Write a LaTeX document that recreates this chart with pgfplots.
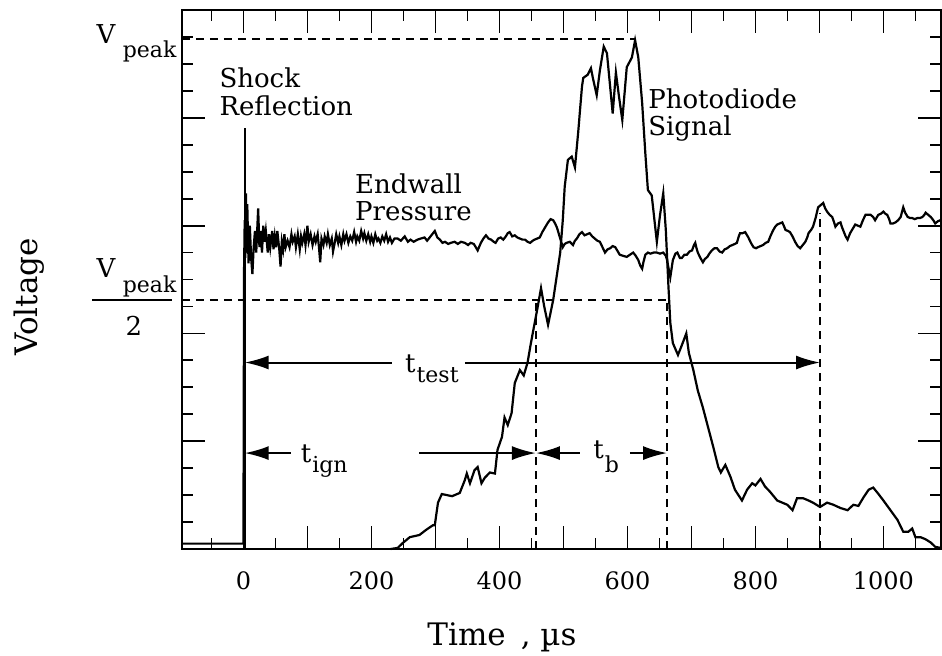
\documentclass[border=0pt]{standalone}
\usepackage{fontspec}
\setmainfont{DejaVu Serif}
\usepackage{pgfplots}
\pgfplotsset{compat=1.18}
\usetikzlibrary{arrows.meta}
\newcommand\fa{\fontsize{13}{13}\selectfont}
\newcommand\fs{\fontsize{11}{11}\selectfont}
\newcommand\fb{\fontsize{15.5}{15.5}\selectfont}
\newcommand\ft{\fontsize{12}{12}\selectfont}
\begin{document}
\begin{tikzpicture}
\useasboundingbox (-91pt,-53pt) rectangle (380pt,274.5pt);
\begin{axis}[
  width=379.5pt, height=269.5pt, scale only axis,
  xmin=-96, xmax=1090, ymin=0, ymax=5,
  clip=false,
  axis line style={line width=1pt},
  xtick={0,100,...,1000},
  xticklabels={0,,200,,400,,600,,800,,1000},
  minor xtick={-50,50,150,250,350,450,550,650,750,850,950,1050},
  ytick={0,1,2,3,4,5},
  yticklabels={},
  minor ytick={0.25,0.5,0.75,1.25,1.5,1.75,2.25,2.5,2.75,3.25,3.5,3.75,4.25,4.5,4.75},
  major tick length=11.5pt, minor tick length=5.5pt,
  tick style={line width=0.9pt, black},
  /pgf/number format/assume math mode=true,
  xticklabel style={font=\ft, yshift=-8pt},
]
% Endwall pressure
\addplot[black, line width=1.1pt] table {
x y
-96 0.05
0 0.05
1 2.60
2 3.05
3 2.70
4 3.30
5 2.75
6 3.20
8 2.65
10 3.00
12 2.70
14 2.55
16 2.80
18 2.95
20 2.75
23 3.16
25 2.80
27 2.95
29 2.75
31 3.00
33 2.85
35 2.95
38 2.75
40 2.92
42 2.80
45 2.95
47 2.78
49 2.90
51 2.80
53 2.95
56 2.78
58 2.62
60 2.85
62 2.78
64 2.92
66 2.80
69 2.86
72 2.80
75 2.92
77 2.85
80 2.90
82 2.80
85 2.92
88 2.78
90 2.90
92 2.84
95 2.92
97 2.82
100 3.00
102 2.85
105 2.92
108 2.82
111 2.90
113 2.85
116 2.92
118 2.80
120 2.66
122 2.88
125 2.82
127 2.90
130 2.84
132 2.92
135 2.82
138 2.88
140 2.76
142 2.82
145 2.92
148 2.84
150 2.90
153 2.82
156 2.92
158 2.86
161 2.92
164 2.84
167 2.90
170 2.86
173 2.94
176 2.85
178 2.90
181 2.86
184 2.95
187 2.88
189 2.93
192 2.86
195 2.92
198 2.85
200 2.90
203 2.84
206 2.92
209 2.86
211 2.88
214 2.84
217 2.90
220 2.86
223 2.92
226 2.85
229 2.89
232 2.84
236 2.88
241 2.88
246 2.86
252 2.90
257 2.85
261 2.87
266 2.85
272 2.87
277 2.88
283 2.89
287 2.86
291 2.89
295 2.92
299 2.95
303 2.89
307 2.87
311 2.84
315 2.85
320 2.83
324 2.84
330 2.85
335 2.83
340 2.85
346 2.84
351 2.82
355 2.84
360 2.83
366 2.77
371 2.84
375 2.88
379 2.91
383 2.88
387 2.87
391 2.85
394 2.84
398 2.88
402 2.89
406 2.87
410 2.90
413 2.93
416 2.94
420 2.90
424 2.91
428 2.89
432 2.88
436 2.87
440 2.87
444 2.85
448 2.84
452 2.86
455 2.87
459 2.88
463 2.89
467 2.94
471 2.98
476 3.03
480 3.06
484 3.05
487 3.02
490 2.98
493 2.92
495 2.88
499 2.80
502 2.83
505 2.84
510 2.85
515 2.82
518 2.86
521 2.88
525 2.92
529 2.94
533 2.91
537 2.92
541 2.93
545 2.90
549 2.88
553 2.86
557 2.85
561 2.80
565 2.75
569 2.78
573 2.79
577 2.81
581 2.80
585 2.76
588 2.73
593 2.72
599 2.71
604 2.73
609 2.75
613 2.72
617 2.68
620 2.63
623 2.60
625 2.66
628 2.73
632 2.75
636 2.74
641 2.75
646 2.75
651 2.74
656 2.75
660 2.72
662 2.68
665 2.58
667 2.52
669 2.60
671 2.68
675 2.74
678 2.75
682 2.70
685 2.70
689 2.73
693 2.73
697 2.76
701 2.77
704 2.82
706 2.84
708 2.79
710 2.75
714 2.70
718 2.66
721 2.69
725 2.71
728 2.74
732 2.77
736 2.79
740 2.79
744 2.76
748 2.75
752 2.78
756 2.79
760 2.81
764 2.82
768 2.83
771 2.84
774 2.90
776 2.93
780 2.93
784 2.94
787 2.91
789 2.89
793 2.84
797 2.80
801 2.79
804 2.80
808 2.81
812 2.82
816 2.84
820 2.85
824 2.91
828 2.96
831 2.99
834 3.01
838 3.02
842 3.03
845 2.99
847 2.96
851 2.95
854 2.94
858 2.90
862 2.85
866 2.81
870 2.79
874 2.82
878 2.85
881 2.89
883 2.93
887 2.96
890 2.99
894 3.07
898 3.17
902 3.19
906 3.21
909 3.16
912 3.13
916 3.10
920 3.08
923 3.03
925 2.99
929 3.02
933 3.03
935 2.99
937 2.96
941 2.90
944 2.87
946 2.90
948 2.93
952 2.97
956 3.01
960 3.00
964 2.99
968 3.05
972 3.10
976 3.10
980 3.10
984 3.08
987 3.05
990 3.08
992 3.10
996 3.11
1000 3.13
1003 3.11
1006 3.10
1009 3.06
1011 3.02
1015 3.02
1019 3.03
1023 3.05
1027 3.08
1031 3.17
1034 3.12
1038 3.08
1042 3.07
1045 3.07
1049 3.06
1053 3.07
1057 3.07
1061 3.08
1064 3.10
1066 3.12
1070 3.10
1074 3.08
1078 3.05
1081 3.02
1085 3.04
1089 3.05
};
% Photodiode signal
\addplot[black, line width=1.1pt] table {
x y
230 0.00
241 0.01
249 0.056
260 0.11
275 0.13
286 0.18
296 0.22
299 0.22
304 0.43
310 0.51
318 0.50
326 0.49
338 0.52
346 0.64
349 0.70
354 0.61
361 0.73
366 0.76
372 0.61
377 0.66
385 0.71
393 0.70
397 0.92
404 1.04
408 1.22
413 1.15
419 1.26
424 1.54
432 1.66
438 1.61
444 1.73
448 1.87
452 2.00
459 2.22
465 2.42
470 2.25
476 2.08
484 2.31
495 2.75
499 3.05
502 3.36
507 3.61
513 3.64
518 3.54
523 3.86
529 4.29
531 4.37
538 4.40
543 4.46
546 4.37
552 4.21
557 4.44
563 4.66
568 4.60
573 4.29
577 4.04
582 4.42
587 4.19
592 3.98
596 4.26
599 4.47
607 4.56
612 4.72
617 4.56
623 4.14
628 3.67
632 3.33
638 3.28
643 3.01
646 2.85
651 3.10
656 3.30
660 2.96
664 2.45
667 2.10
671 1.91
679 1.80
685 1.89
692 2.00
696 1.82
703 1.66
710 1.47
718 1.31
726 1.13
734 0.95
742 0.76
746 0.71
753 0.78
761 0.67
768 0.55
779 0.45
787 0.55
795 0.61
800 0.59
808 0.65
815 0.58
823 0.53
834 0.45
842 0.43
850 0.41
858 0.36
865 0.47
875 0.47
883 0.45
890 0.43
901 0.39
912 0.43
922 0.41
933 0.38
944 0.36
953 0.41
961 0.40
969 0.48
977 0.55
984 0.57
991 0.52
1000 0.45
1011 0.36
1022 0.27
1031 0.16
1039 0.16
1045 0.19
1050 0.11
1058 0.11
1066 0.09
1074 0.06
1081 0.02
1090 0.01
};
% shock reflection marker
\draw[line width=1pt] (axis cs:2,0) -- (axis cs:2,3.91);
% dashed reference lines
\draw[dash pattern=on 4pt off 3pt, line width=0.8pt] (axis cs:-96,4.73) -- (axis cs:613,4.73);
\draw[dash pattern=on 4pt off 3pt, line width=0.8pt] (axis cs:-96,2.31) -- (axis cs:662,2.31);
\draw[dash pattern=on 4pt off 3pt, line width=0.8pt] (axis cs:457,0) -- (axis cs:457,2.31);
\draw[dash pattern=on 4pt off 3pt, line width=0.8pt] (axis cs:662,0) -- (axis cs:662,2.31);
\draw[dash pattern=on 4pt off 3pt, line width=0.8pt] (axis cs:901,0) -- (axis cs:901,3.12);
% arrows
\draw[{Latex[length=12pt,width=7pt]}-, line width=1pt] (axis cs:2,1.73) -- (axis cs:232,1.73);
\draw[-{Latex[length=12pt,width=7pt]}, line width=1pt] (axis cs:346,1.73) -- (axis cs:901,1.73);
\draw[{Latex[length=12pt,width=7pt]}-, line width=1pt] (axis cs:2,0.89) -- (axis cs:75,0.89);
\draw[-{Latex[length=12pt,width=7pt]}, line width=1pt] (axis cs:275,0.89) -- (axis cs:457,0.89);
\draw[{Latex[length=12pt,width=7pt]}-, line width=1pt] (axis cs:457,0.89) -- (axis cs:526,0.89);
\draw[-{Latex[length=12pt,width=7pt]}, line width=1pt] (axis cs:604,0.89) -- (axis cs:662,0.89);
% t labels
\node[anchor=base west, inner sep=0pt, font=\fa] at (axis cs:252,1.642) {t};
\node[anchor=base west, inner sep=0pt, font=\fs] at (axis cs:270,1.540) {test};
\node[anchor=base west, inner sep=0pt, font=\fa] at (axis cs:89,0.807) {t};
\node[anchor=base west, inner sep=0pt, font=\fs] at (axis cs:107,0.714) {ign};
\node[anchor=base west, inner sep=0pt, font=\fa] at (axis cs:546,0.844) {t};
\node[anchor=base west, inner sep=0pt, font=\fs] at (axis cs:564,0.714) {b};
% curve labels
\node[anchor=base west, inner sep=0pt, font=\fa] at (axis cs:-38,4.285) {Shock};
\node[anchor=base west, inner sep=0pt, font=\fa] at (axis cs:-38,4.026) {Reflection};
\node[anchor=base west, inner sep=0pt, font=\fa] at (axis cs:174,3.302) {Endwall};
\node[anchor=base west, inner sep=0pt, font=\fa] at (axis cs:174,3.052) {Pressure};
\node[anchor=base west, inner sep=0pt, font=\fa] at (axis cs:632,4.091) {Photodiode};
\node[anchor=base west, inner sep=0pt, font=\fa] at (axis cs:632,3.840) {Signal};
% V peak labels
\node[anchor=base west, inner sep=0pt, font=\fa] at (axis cs:-230,4.694) {V};
\node[anchor=base west, inner sep=0pt, font=\fs] at (axis cs:-189,4.564) {peak};
\node[anchor=base west, inner sep=0pt, font=\fa] at (axis cs:-230,2.523) {V};
\node[anchor=base west, inner sep=0pt, font=\fs] at (axis cs:-189,2.375) {peak};
\draw[line width=1.1pt] (axis cs:-236,2.31) -- (axis cs:-111,2.31);
\node[anchor=base, inner sep=0pt, font=\fa] at (axis cs:-171,1.985) {2};
% axis titles
\node[rotate=90, font=\fb] at (axis cs:-335,2.34) {Voltage};
\node[font=\fb] at (axis cs:404,-0.82) {Time\, , µs};
\end{axis}
\end{tikzpicture}
\end{document}
